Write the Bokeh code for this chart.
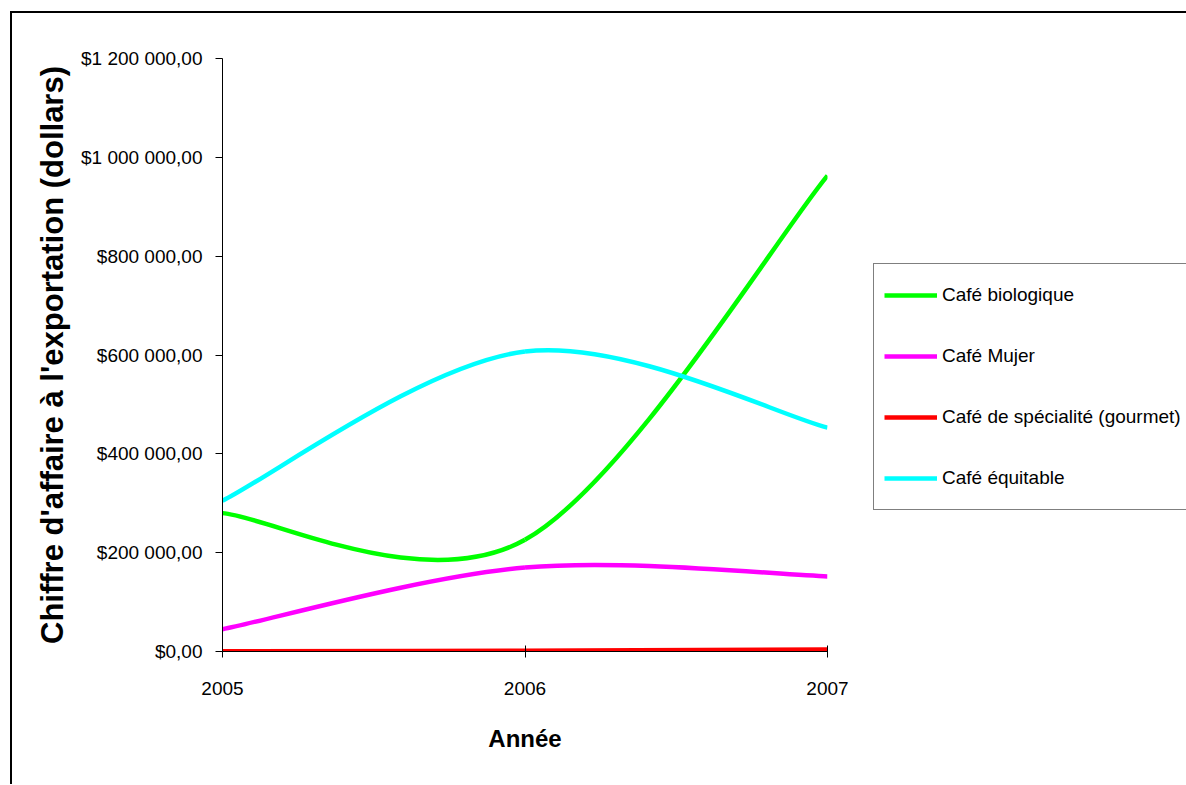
from bokeh.plotting import figure
from bokeh.models import (Range1d, FixedTicker, CustomJSTickFormatter, Legend, LegendItem)
from bokeh.embed import file_html
from bokeh.resources import INLINE

years = [2005, 2006, 2007]
year_labels = ["2005", "2006", "2007"]
series_names = ["Café biologique", "Café Mujer", "Café de spécialité (gourmet)", "Café équitable"]
bio = [280000, 226000, 963000]
mujer = [45000, 170000, 152000]
gourmet = [500, 1500, 4000]
equitable = [305000, 607000, 453000]
colors = ["#00FF00", "#FF00FF", "#FF0000", "#00FFFF"]
y_ticks = [0, 200000, 400000, 600000, 800000, 1000000, 1200000]

FONT = "Liberation Sans"

p = figure(frame_width=605, frame_height=593, output_backend="svg", toolbar_location=None,
           x_range=Range1d(2005, 2007), y_range=Range1d(0, 1200000),
           min_border_left=210, min_border_right=352, min_border_top=45, min_border_bottom=133)
p.styles = {"border-left": "2px solid black", "border-top": "2px solid black",
            "margin-left": "10px", "margin-top": "11px"}
p.outline_line_color = None
p.xgrid.visible = False
p.ygrid.visible = False
p.background_fill_color = "white"
p.border_fill_color = "white"


def smooth_segments(xs, ys):
    # Excel-like smoothed line: cubic Bezier segments with Catmull-Rom control points
    n = len(xs)
    seg = dict(x0=[], y0=[], x1=[], y1=[], cx0=[], cy0=[], cx1=[], cy1=[])
    for i in range(n - 1):
        p0 = (xs[max(i - 1, 0)], ys[max(i - 1, 0)])
        p1 = (xs[i], ys[i])
        p2 = (xs[i + 1], ys[i + 1])
        p3 = (xs[min(i + 2, n - 1)], ys[min(i + 2, n - 1)])
        seg["x0"].append(p1[0]); seg["y0"].append(p1[1])
        seg["x1"].append(p2[0]); seg["y1"].append(p2[1])
        seg["cx0"].append(p1[0] + (p2[0] - p0[0]) / 6.0)
        seg["cy0"].append(p1[1] + (p2[1] - p0[1]) / 6.0)
        seg["cx1"].append(p2[0] - (p3[0] - p1[0]) / 6.0)
        seg["cy1"].append(p2[1] - (p3[1] - p1[1]) / 6.0)
    return seg


items = []
for name, vals, col in zip(series_names, [bio, mujer, gourmet, equitable], colors):
    seg = smooth_segments(years, vals)
    r = p.bezier(x0=seg["x0"], y0=seg["y0"], x1=seg["x1"], y1=seg["y1"],
                 cx0=seg["cx0"], cy0=seg["cy0"], cx1=seg["cx1"], cy1=seg["cy1"],
                 line_color=col, line_width=4.5)
    items.append(LegendItem(label=name, renderers=[r]))

# Axes
xa = p.xaxis[0]
xa.ticker = FixedTicker(ticks=years)
xa.major_label_overrides = {y: l for y, l in zip(years, year_labels)}
xa.minor_tick_line_color = None
xa.major_tick_in = 6
xa.major_tick_out = 6
xa.axis_line_color = "black"
xa.major_tick_line_color = "black"
xa.major_label_text_font = FONT
xa.major_label_text_font_size = "19px"
xa.major_label_text_color = "black"
xa.major_label_standoff = 24
xa.axis_label = "Année"
xa.axis_label_text_font = FONT
xa.axis_label_text_font_size = "24px"
xa.axis_label_text_font_style = "bold"
xa.axis_label_text_color = "black"
xa.axis_label_standoff = 27

ya = p.yaxis[0]
ya.ticker = FixedTicker(ticks=y_ticks)
ya.formatter = CustomJSTickFormatter(code="""
const s = Math.round(tick).toString().replace(/\\B(?=(\\d{3})+(?!\\d))/g, " ");
return "$" + s + ",00";
""")
ya.minor_tick_line_color = None
ya.major_tick_in = 0
ya.major_tick_out = 7
ya.axis_line_color = "black"
ya.major_tick_line_color = "black"
ya.major_label_text_font = FONT
ya.major_label_text_font_size = "19px"
ya.major_label_text_color = "black"
ya.major_label_standoff = 13
ya.axis_label = "Chiffre d'affaire à l'exportation (dollars)"
ya.axis_label_text_font = FONT
ya.axis_label_text_font_size = "31px"
ya.axis_label_text_font_style = "bold"
ya.axis_label_text_color = "black"
ya.axis_label_standoff = 8

legend = Legend(items=items, location=(46, 141), orientation="vertical",
                glyph_width=53, glyph_height=42, label_height=42, spacing=19,
                padding=10, margin=0, label_standoff=5,
                label_text_font=FONT, label_text_font_size="19px",
                label_text_color="black",
                border_line_color="black", border_line_width=1,
                background_fill_color="white", background_fill_alpha=1.0)
p.add_layout(legend, "right")

open("out.html", "w").write(file_html(p, INLINE))
